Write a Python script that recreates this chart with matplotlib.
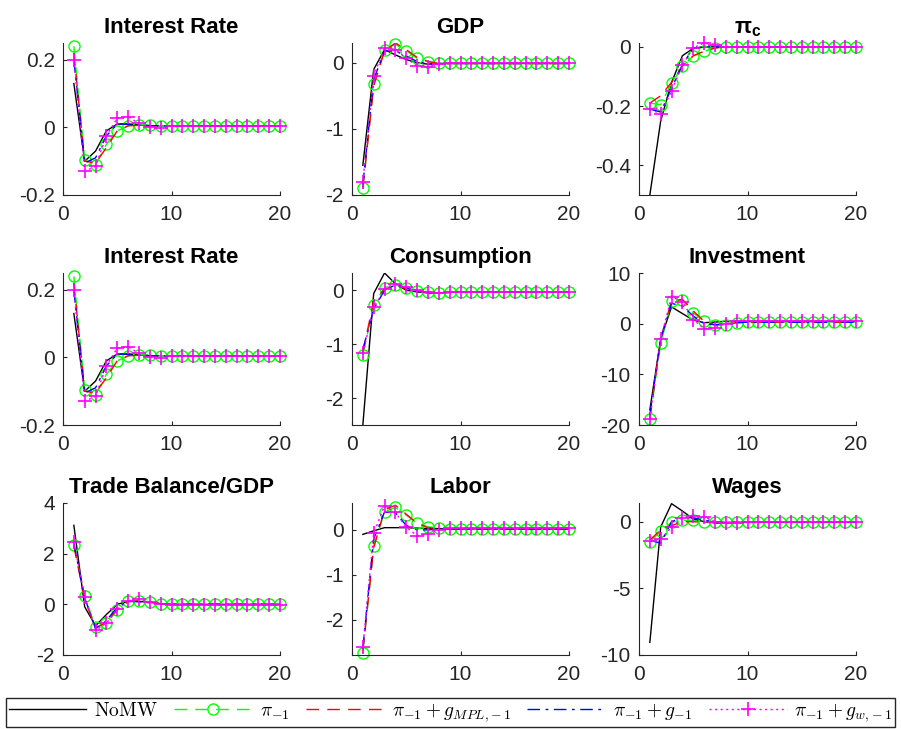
import numpy as np
import matplotlib
matplotlib.use("Agg")
import matplotlib.pyplot as plt
from matplotlib.font_manager import FontProperties

plt.rcParams['font.family'] = ['Liberation Sans', 'DejaVu Sans']
plt.rcParams['mathtext.fontset'] = 'custom'
plt.rcParams['mathtext.rm'] = 'Liberation Sans'
plt.rcParams['mathtext.bf'] = 'Liberation Sans:bold'
plt.rcParams['axes.unicode_minus'] = False

periods = np.arange(1, 21)

titles = ['Interest Rate', 'GDP', r'$\mathbf{\pi_c}$',
          'Interest Rate', 'Consumption', 'Investment',
          'Trade Balance/GDP', 'Labor', 'Wages']

legend_labels = [r'$\mathrm{NoMW}$', r'$\pi_{-1}$', r'$\pi_{-1}+g_{MPL,\!-1}$',
                 r'$\pi_{-1}+g_{-1}$', r'$\pi_{-1}+g_{w,\!-1}$']

# impulse responses, first 10 periods; later periods hold the last value
rate_nomw = [0.13, -0.10, -0.07, -0.01, 0.01, 0.01, 0.007, 0.005, 0.005, 0.005]
rate_pi = [0.24, -0.095, -0.11, -0.05, -0.01, 0.004, 0.008, 0.006, 0.005, 0.005]
rate_mpl = [0.22, -0.10, -0.105, -0.06, -0.01, 0.005, 0.006, 0.005, 0.005, 0.005]
rate_g = [0.20, -0.105, -0.09, -0.025, 0.01, 0.01, 0.008, 0.005, 0.004, 0.005]
rate_gw = [0.20, -0.13, -0.115, -0.025, 0.028, 0.032, 0.012, 0.0, -0.003, 0.004]

gdp_nomw = [-1.55, -0.10, 0.20, 0.12, 0.05, 0.0, -0.02, -0.01, -0.01, -0.01]
gdp_pi = [-1.90, -0.32, 0.20, 0.28, 0.18, 0.07, 0.02, -0.01, -0.01, -0.01]
gdp_mpl = [-1.90, -0.35, 0.18, 0.30, 0.20, 0.08, 0.02, -0.01, -0.01, -0.01]
gdp_g = [-1.85, -0.25, 0.18, 0.18, 0.10, 0.02, -0.02, -0.01, -0.01, -0.01]
gdp_gw = [-1.80, -0.20, 0.23, 0.20, 0.07, -0.05, -0.06, -0.02, -0.01, -0.01]

pic_nomw = [-0.50, -0.25, -0.12, -0.03, -0.005, 0.0, 0.0, 0.0, 0.0, 0.0]
pic_pi = [-0.19, -0.195, -0.123, -0.066, -0.031, -0.015, -0.004, 0.0, 0.0, 0.0]
pic_mpl = [-0.19, -0.165, -0.12, -0.065, -0.03, -0.015, -0.004, 0.0, 0.0, 0.0]
pic_g = [-0.21, -0.22, -0.14, -0.06, -0.005, 0.0, 0.0, 0.0, 0.0, 0.0]
pic_gw = [-0.21, -0.227, -0.148, -0.062, -0.003, 0.013, 0.006, 0.0, 0.0, 0.0]

cons_nomw = [-2.50, -0.06, 0.32, 0.12, 0.0, -0.03, -0.05, -0.05, -0.04, -0.03]
cons_pi = [-1.20, -0.27, 0.05, 0.10, 0.04, -0.01, -0.04, -0.05, -0.04, -0.03]
cons_mpl = [-1.15, -0.20, 0.02, 0.08, 0.03, -0.01, -0.04, -0.05, -0.04, -0.03]
cons_g = [-1.10, -0.35, 0.0, 0.10, 0.05, -0.01, -0.04, -0.05, -0.04, -0.03]
cons_gw = [-1.17, -0.32, 0.02, 0.12, 0.06, 0.0, -0.03, -0.05, -0.04, -0.03]

inv_nomw = [-17.0, -3.0, 3.3, 2.0, 0.7, 0.2, 0.3, 0.5, 0.5, 0.4]
inv_pi = [-18.9, -3.9, 4.4, 4.6, 2.1, 0.5, -0.2, -0.2, 0.2, 0.3]
inv_mpl = [-18.5, -3.0, 4.5, 4.8, 2.5, 0.5, -0.3, -0.1, 0.2, 0.3]
inv_g = [-18.0, -3.0, 4.0, 3.5, 1.5, 0.0, -0.2, 0.0, 0.2, 0.3]
inv_gw = [-18.8, -3.0, 5.3, 4.3, 0.8, -1.0, -0.8, 0.0, 0.5, 0.6]

tb_nomw = [3.12, -0.10, -0.85, -0.40, 0.0, 0.12, 0.12, 0.08, 0.03, 0.0]
tb_pi = [2.33, 0.32, -0.90, -0.74, -0.24, 0.13, 0.15, 0.10, 0.03, 0.0]
tb_mpl = [2.30, 0.20, -0.95, -0.70, -0.20, 0.10, 0.14, 0.09, 0.03, 0.0]
tb_g = [2.40, 0.25, -0.95, -0.65, -0.10, 0.12, 0.10, 0.06, 0.02, 0.0]
tb_gw = [2.45, 0.30, -1.03, -0.75, -0.20, 0.12, 0.20, 0.08, 0.02, -0.02]

lab_nomw = [-0.10, -0.02, 0.05, 0.05, 0.05, 0.04, 0.03, 0.03, 0.02, 0.02]
lab_pi = [-2.74, -0.36, 0.41, 0.50, 0.33, 0.15, 0.07, 0.04, 0.03, 0.02]
lab_mpl = [-2.70, -0.40, 0.45, 0.55, 0.35, 0.15, 0.05, 0.03, 0.02, 0.02]
lab_g = [-2.65, -0.20, 0.40, 0.38, 0.10, 0.0, 0.0, 0.02, 0.02, 0.02]
lab_gw = [-2.62, -0.07, 0.54, 0.39, 0.06, -0.13, -0.10, 0.0, 0.04, 0.05]

wage_nomw = [-9.05, -0.40, 1.35, 0.80, 0.20, 0.0, -0.10, -0.10, -0.05, -0.05]
wage_pi = [-1.50, -0.73, -0.05, 0.10, 0.10, 0.0, 0.0, -0.05, -0.05, -0.05]
wage_mpl = [-1.40, -0.60, -0.30, 0.0, 0.0, -0.05, -0.05, -0.05, -0.05, -0.05]
wage_g = [-1.40, -1.60, 0.0, 0.30, 0.30, 0.10, 0.0, -0.05, -0.05, -0.05]
wage_gw = [-1.43, -1.30, -0.42, 0.27, 0.45, 0.37, 0.0, -0.10, -0.10, -0.05]

panels = [
    (rate_nomw, rate_pi, rate_mpl, rate_g, rate_gw),
    (gdp_nomw, gdp_pi, gdp_mpl, gdp_g, gdp_gw),
    (pic_nomw, pic_pi, pic_mpl, pic_g, pic_gw),
    (rate_nomw, rate_pi, rate_mpl, rate_g, rate_gw),
    (cons_nomw, cons_pi, cons_mpl, cons_g, cons_gw),
    (inv_nomw, inv_pi, inv_mpl, inv_g, inv_gw),
    (tb_nomw, tb_pi, tb_mpl, tb_g, tb_gw),
    (lab_nomw, lab_pi, lab_mpl, lab_g, lab_gw),
    (wage_nomw, wage_pi, wage_mpl, wage_g, wage_gw),
]

ylims = [(-0.2, 0.25), (-2, 0.3), (-0.5, 0.013),
         (-0.2, 0.25), (-2.5, 0.32), (-20, 10),
         (-2, 4), (-2.79, 0.6), (-10, 1.4)]
yticks = [[-0.2, 0, 0.2], [-2, -1, 0], [-0.4, -0.2, 0],
          [-0.2, 0, 0.2], [-2, -1, 0], [-20, -10, 0, 10],
          [-2, 0, 2, 4], [-2, -1, 0], [-10, -5, 0]]


def extend(vals, n=20):
    return list(vals) + [vals[-1]] * (n - len(vals))


# markers are left unclipped, solid/dashed lines stay inside the axes
styles = [
    dict(color='black', linestyle='-'),
    dict(color='#00ff00', dashes=(9, 6), marker='o', markersize=8,
         markerfacecolor='none', markeredgewidth=1.0, clip_on=False),
    dict(color='#ff0000', dashes=(9, 6)),
    dict(color='#0000ff', dashes=(9, 4, 2, 4)),
    dict(color='#ff00ff', dashes=(1.5, 2.5), marker='+', markersize=10,
         markeredgewidth=1.2, clip_on=False),
]

W, H = 901, 729
fig = plt.figure(figsize=(W / 100, H / 100), dpi=100)

col_left = [63, 352, 639]
row_top = [43, 273, 503]
ax_w, ax_h = 217, 152

handles = []
for i, (title, series) in enumerate(zip(titles, panels)):
    r, c = divmod(i, 3)
    ax = fig.add_axes([col_left[c] / W, 1 - (row_top[r] + ax_h) / H,
                       ax_w / W, ax_h / H])
    lines = []
    for vals, st in zip(series, styles):
        ln, = ax.plot(periods, extend(vals), linewidth=1.0, **st)
        lines.append(ln)
    if i == 0:
        handles = lines
    ax.set_xlim(0, 20)
    ax.set_ylim(*ylims[i])
    ax.set_xticks([0, 10, 20])
    ax.set_yticks(yticks[i])
    ax.yaxis.set_major_formatter(plt.FuncFormatter(lambda v, p: f'{v:g}'))
    for side in ('top', 'right'):
        ax.spines[side].set_visible(False)
    for side in ('left', 'bottom'):
        ax.spines[side].set_color('#262626')
        ax.spines[side].set_linewidth(0.8)
    ax.tick_params(direction='in', length=3, width=0.8, colors='#262626',
                   labelsize=15)
    ax.tick_params(axis='x', pad=7)
    ax.tick_params(axis='y', pad=6)
    ax.set_title(title, fontsize=16, fontweight='bold', pad=7)

leg_font = FontProperties(size=14, math_fontfamily='cm')
fig.legend(handles, legend_labels, loc='lower center', ncol=5,
           bbox_to_anchor=(0.5, 0.0), prop=leg_font, handlelength=4.0,
           handletextpad=0.4, columnspacing=0.85, borderpad=0.15,
           borderaxespad=0.1, frameon=True, fancybox=False,
           edgecolor='#262626', framealpha=1.0)

fig.savefig('out.png', dpi=100)
